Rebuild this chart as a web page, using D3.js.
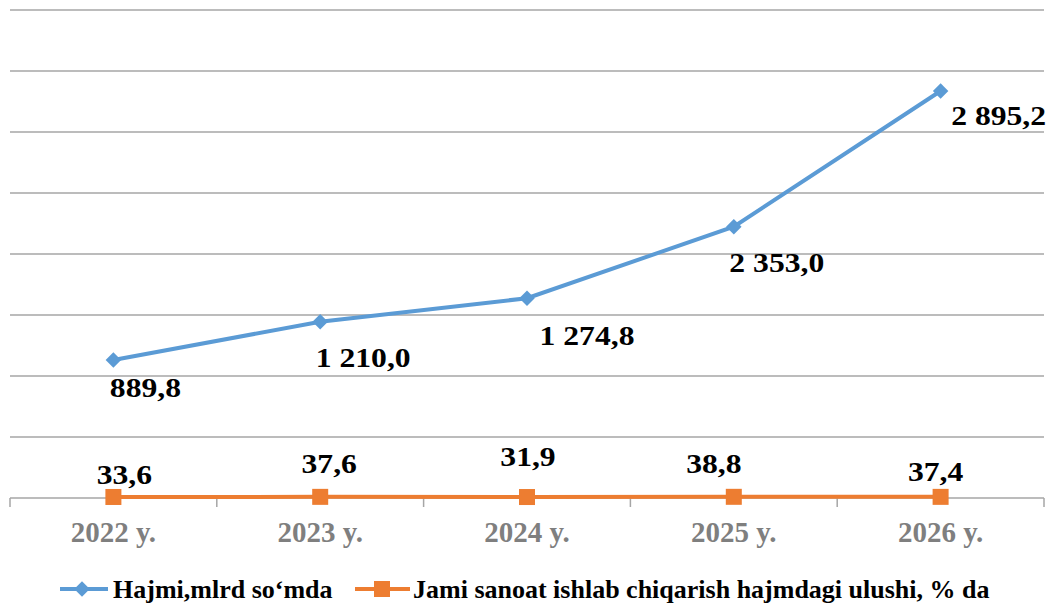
<!DOCTYPE html>
<html>
<head>
<meta charset="utf-8">
<script src="https://cdn.jsdelivr.net/npm/d3@7"></script>
<style>
  body { margin: 0; background: #fff; }
  .grid { stroke: #a6a6a6; stroke-width: 1.5; }
  text { font-family: "Times New Roman", "Liberation Serif", Tinos, Times, serif; font-weight: 700; }
  .catLabel { font-size: 29px; fill: #7f7f7f; }
  .valLabel { font-size: 28px; fill: #000; }
  .legendText { font-size: 26px; fill: #000; }
</style>
</head>
<body>
<div id="chart"></div>
<script>
// data
var years = ["2022 y.", "2023 y.", "2024 y.", "2025 y.", "2026 y."];
var hajmi = [889.8, 1210.0, 1274.8, 2353.0, 2895.2];          // label values
var hajmiPlotted = [905, 1156, 1310, 1779, 2669];             // where the points sit on the axis in the picture
var ulushi = [33.6, 37.6, 31.9, 38.8, 37.4];
var seriesNames = ["Hajmi,mlrd so\u2018mda", "Jami sanoat ishlab chiqarish hajmdagi ulushi, % da"];
var yTicks = [0, 400, 800, 1200, 1600, 2000, 2400, 2800, 3200];

// label nudges (labels were dragged by hand in the original)
var hajmiLabelOff = [[32, 37], [43, 45], [60, 47], [43, 45], [58, 34]];
var ulushiLabelOff = [[11, -13], [9, -24], [1, -31], [-20, -24], [-5, -16]];

var W = 1051, H = 603;
var blue = "#5b9bd5", orange = "#ed7d31";

function fmt(v) {
  var s = v.toFixed(1).replace(".", ",");
  var parts = s.split(",");
  parts[0] = parts[0].replace(/\B(?=(\d{3})+(?!\d))/g, " ");
  return parts.join(",");
}

var svg = d3.select("#chart").append("svg")
  .attr("width", W).attr("height", H);

var x = d3.scaleBand().domain(years).range([10, 1044]);
var y = d3.scaleLinear().domain([0, 3200]).range([498, 10]);
// share series sits on its own (hidden) axis, right on the baseline
var y2 = d3.scaleLinear().domain([0, 16000]).range([498, 10]);

// gridlines
svg.append("g").selectAll("line").data(yTicks.slice(1)).enter()
  .append("line").attr("class", "grid")
  .attr("x1", 10).attr("x2", 1044)
  .attr("y1", function (d) { return y(d); })
  .attr("y2", function (d) { return y(d); });

// category axis
var xAxis = svg.append("g").attr("transform", "translate(0," + y(0) + ")");
xAxis.append("line").attr("class", "grid").attr("x1", 10).attr("x2", 1044);
var edges = years.map(function (d) { return x(d); }).concat([x.range()[1]]);
xAxis.selectAll("line.tick").data(edges).enter()
  .append("line").attr("class", "grid tick")
  .attr("x1", function (d) { return d; }).attr("x2", function (d) { return d; })
  .attr("y1", 0).attr("y2", 9);
xAxis.selectAll("text").data(years).enter()
  .append("text").attr("class", "catLabel")
  .attr("x", function (d) { return x(d) + x.bandwidth() / 2; })
  .attr("y", 44)
  .attr("text-anchor", "middle")
  .text(function (d) { return d; });

function cx(i) { return x(years[i]) + x.bandwidth() / 2; }

// blue line
var line = d3.line()
  .x(function (d, i) { return cx(i); })
  .y(function (d) { return y(d); });
var line2 = d3.line()
  .x(function (d, i) { return cx(i); })
  .y(function (d) { return y2(d); });

svg.append("path").datum(hajmiPlotted)
  .attr("d", line).attr("fill", "none")
  .attr("stroke", blue).attr("stroke-width", 4);

svg.append("g").selectAll("path").data(hajmiPlotted).enter()
  .append("path")
  .attr("d", d3.symbol().type(d3.symbolSquare).size(120))
  .attr("transform", function (d, i) { return "translate(" + cx(i) + "," + y(d) + ") rotate(45)"; })
  .attr("fill", blue);

// orange line
svg.append("path").datum(ulushi)
  .attr("d", line2).attr("fill", "none")
  .attr("stroke", orange).attr("stroke-width", 4);

svg.append("g").selectAll("rect").data(ulushi).enter()
  .append("rect")
  .attr("x", function (d, i) { return cx(i) - 8; })
  .attr("y", function (d) { return y2(d) - 8; })
  .attr("width", 16).attr("height", 16)
  .attr("fill", orange);

// value labels (orange ones placed relative to the baseline)
function addLabels(vals, pos, scale, offs) {
  svg.append("g").selectAll("text").data(vals).enter()
    .append("text").attr("class", "valLabel")
    .attr("text-anchor", "middle")
    .attr("transform", function (d, i) {
      return "translate(" + (cx(i) + offs[i][0]) + "," + (scale(pos[i]) + offs[i][1]) + ") scale(1.13,1)";
    })
    .text(function (d) { return fmt(d); });
}
addLabels(hajmi, hajmiPlotted, y, hajmiLabelOff);
addLabels(ulushi, ulushi, y2, ulushiLabelOff);

// legend
var legend = svg.append("g").attr("transform", "translate(0,589)");
var b = legend.append("g").attr("transform", "translate(60,0)");
b.append("line").attr("x1", 0).attr("x2", 48).attr("stroke", blue).attr("stroke-width", 4);
b.append("path").attr("d", d3.symbol().type(d3.symbolSquare).size(120))
  .attr("transform", "translate(22,0) rotate(45)").attr("fill", blue);
b.append("text").attr("class", "legendText").attr("x", 53).attr("y", 9).text(seriesNames[0]);

var o = legend.append("g").attr("transform", "translate(355,0)");
o.append("line").attr("x1", 0).attr("x2", 55).attr("stroke", orange).attr("stroke-width", 4);
o.append("rect").attr("x", 19).attr("y", -8).attr("width", 16).attr("height", 16).attr("fill", orange);
o.append("text").attr("class", "legendText").attr("x", 58).attr("y", 9).text(seriesNames[1]);
</script>
</body>
</html>
